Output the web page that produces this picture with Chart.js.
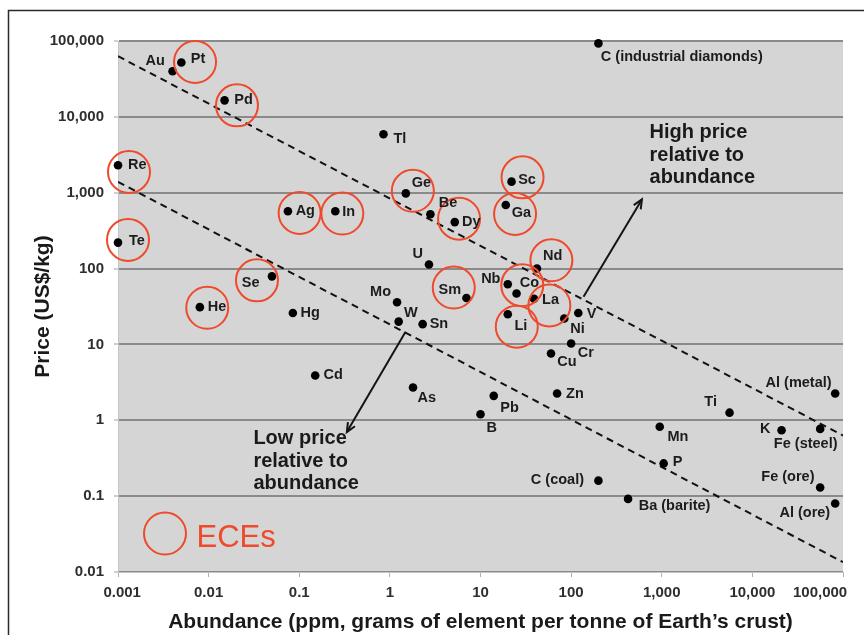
<!DOCTYPE html>
<html>
<head>
<meta charset="utf-8">
<script src="https://cdn.jsdelivr.net/npm/chart.js@4/dist/chart.umd.min.js"></script>
<style>
  html, body { margin: 0; padding: 0; background: #ffffff; }
  #wrap { width: 864px; height: 635px; }
</style>
</head>
<body>
<div id="wrap"><canvas id="c" width="864" height="635"></canvas></div>
<script>
// ---------------- DATA ----------------
const elements = ['Au','Pt','Pd','Re','Te','Ag','In','Se','He','Hg','Mo','Tl','Ge','Be','Dy','Sc','Ga','U','Nd','Sm','Nb','Co','La','Li','V','Ni','W','Sn','Cr','Cu','Cd','As','Pb','B','Zn','Ti','Al (metal)','K','Fe (steel)','Mn','P','C (coal)','Ba (barite)','Fe (ore)','Al (ore)','C (industrial diamonds)'];
const abundance = [0.004,0.005,0.015,0.001,0.001,0.075,0.25,0.05,0.008,0.085,1.2,0.85,1.5,2.8,5.2,22,19,2.7,42,7,20,25,39,20,120,84,1.25,2.3,100,60,0.15,1.8,14,10,70,5600,82000,21000,56000,950,1050,200,425,56000,82000,200];
const price = [40000,52000,16500,2300,220,570,570,79,31,26,36,5900,980,520,410,1400,690,113,100,41,62,47,40,25,26,22,20,18.5,10.3,7.6,3.9,2.7,2.1,1.2,2.25,1.26,2.25,0.74,0.77,0.82,0.27,0.16,0.092,0.13,0.08,93000];
const eceElements = ['Pt','Pd','Re','Te','Ag','In','Se','He','Ge','Dy','Sc','Ga','Nd','Sm','Co','La','Li'];

const trendX = [0.001, 100000];
const trendHighY = [63000, 0.63];
const trendLowY = [1390, 0.0135];

const xTickValues = [0.001,0.01,0.1,1,10,100,1000,10000,100000];
const xTickLabels = ['0.001','0.01','0.1','1','10','100','1,000','10,000','100,000'];
const yTickValues = [0.01,0.1,1,10,100,1000,10000,100000];
const yTickLabels = ['0.01','0.1','1','10','100','1,000','10,000','100,000'];

const highArrow = { from: [137, 42.4], to: [604, 816] };
const lowArrow = { from: [1.49, 14.7], to: [0.335, 0.70] };
const highText = { at: [733, 6170], lines: ['High price', 'relative to', 'abundance'] };
const lowText = { at: [0.0312, 0.574], lines: ['Low price', 'relative to', 'abundance'] };

// ---------------- LAYOUT (label / circle offsets in px) ----------------
const labelPos = {
  'Au':[-7.7,-10,'right'],'Pt':[9.4,-4,'left'],'Pd':[9.7,0,'left'],'Re':[10,0,'left'],'Te':[11,-2,'left'],
  'Ag':[7.7,0,'left'],'In':[7,1,'left'],'Se':[-12.4,6.7,'right'],'He':[8,0,'left'],'Hg':[7.7,0,'left'],
  'Mo':[-6,-10.6,'right'],'Tl':[10,5,'left'],'Ge':[6,-10,'left'],'Be':[8.3,-11,'left'],'Dy':[7.3,0,'left'],
  'Sc':[6.6,-2,'left'],'Ga':[6,8.3,'left'],'U':[-6,-11,'right'],'Nd':[6,-12.3,'left'],'Sm':[-16.7,-8.4,'center'],
  'Nb':[-7.3,-5.7,'right'],'Co':[3.3,-10.6,'left'],'La':[8,1,'left'],'Li':[6.6,11.7,'left'],'V':[8.4,1,'left'],
  'Ni':[6,10.7,'left'],'W':[5.3,-8.4,'left'],'Sn':[7,0,'left'],'Cr':[6.6,9.4,'left'],'Cu':[6.3,8.4,'left'],
  'Cd':[8.3,0,'left'],'As':[4.6,10.4,'left'],'Pb':[6.6,11.7,'left'],'B':[6,14,'left'],'Zn':[9,0,'left'],
  'Ti':[-12.6,-10.6,'right'],'Al (metal)':[-3.6,-11,'right'],'K':[-11,-1.7,'right'],'Fe (steel)':[-14.5,15.6,'center'],
  'Mn':[7.7,10.6,'left'],'P':[9,-1.6,'left'],'C (coal)':[-14.4,-0.7,'right'],'Ba (barite)':[10.6,7,'left'],
  'Fe (ore)':[-5.7,-10,'right'],'Al (ore)':[-5,10,'right'],'C (industrial diamonds)':[2.4,14,'left']
};
const circleOffset = {
  'Pt':[13.7,-0.6],'Pd':[12.4,5],'Re':[11,6.7],'Te':[10,-2.7],'Ag':[11.7,1.7],'In':[7,2.3],'Se':[-15,4],
  'He':[7.4,0.6],'Ge':[7,-2.6],'Dy':[4.3,-3.4],'Sc':[11,-4.3],'Ga':[9.3,9],'Nd':[14.4,-8.3],'Sm':[-12.7,-10.4],
  'Co':[5.7,-8.3],'La':[15.3,6.7],'Li':[9,12.4]
};

const RED = '#ee4a2b';
const FONT = '"Liberation Sans", Arial, Helvetica, sans-serif';
const NB = '\u00a0';

const bgPlugin = {
  id: 'bg',
  beforeDraw(chart) {
    const {ctx, chartArea: a} = chart;
    ctx.save();
    ctx.fillStyle = '#ffffff';
    ctx.fillRect(0, 0, chart.width, chart.height);
    ctx.fillStyle = '#d5d5d5';
    ctx.fillRect(a.left, a.top, a.right - a.left, a.bottom - a.top);
    ctx.strokeStyle = '#2a2a2a';
    ctx.lineWidth = 1.5;
    ctx.beginPath();
    ctx.moveTo(8.5, chart.height);
    ctx.lineTo(8.5, 10.5);
    ctx.lineTo(chart.width, 10.5);
    ctx.stroke();
    ctx.restore();
  }
};

function arrow(ctx, x1, y1, x2, y2) {
  ctx.beginPath();
  ctx.moveTo(x1, y1);
  ctx.lineTo(x2, y2);
  ctx.stroke();
  const ang = Math.atan2(y2 - y1, x2 - x1);
  const L = 10, w = 0.42;
  ctx.beginPath();
  ctx.moveTo(x2 - L * Math.cos(ang - w), y2 - L * Math.sin(ang - w));
  ctx.lineTo(x2, y2);
  ctx.lineTo(x2 - L * Math.cos(ang + w), y2 - L * Math.sin(ang + w));
  ctx.stroke();
}

const annoPlugin = {
  id: 'anno',
  afterDatasetsDraw(chart) {
    const {ctx, chartArea: a} = chart;
    const xs = chart.scales.x, ys = chart.scales.y;
    const meta = chart.getDatasetMeta(0);
    ctx.save();
    // ECE circles
    ctx.strokeStyle = RED;
    ctx.lineWidth = 2;
    elements.forEach((name, i) => {
      if (!eceElements.includes(name)) return;
      const p = meta.data[i];
      const off = circleOffset[name] || [0, 0];
      ctx.beginPath();
      ctx.arc(p.x + off[0], p.y + off[1], 21, 0, Math.PI * 2);
      ctx.stroke();
    });
    // point labels
    ctx.fillStyle = '#1c1c1c';
    ctx.font = 'bold 14.5px ' + FONT;
    ctx.textBaseline = 'middle';
    elements.forEach((name, i) => {
      const p = meta.data[i];
      const lp = labelPos[name] || [7, 0, 'left'];
      ctx.textAlign = lp[2];
      ctx.fillText(name, p.x + lp[0], p.y + lp[1]);
    });
    // arrows
    ctx.strokeStyle = '#141414';
    ctx.lineWidth = 2;
    [highArrow, lowArrow].forEach(ar => {
      arrow(ctx, xs.getPixelForValue(ar.from[0]), ys.getPixelForValue(ar.from[1]),
                 xs.getPixelForValue(ar.to[0]), ys.getPixelForValue(ar.to[1]));
    });
    // annotation texts
    ctx.fillStyle = '#1a1a1a';
    ctx.font = 'bold 20px ' + FONT;
    ctx.textAlign = 'left';
    [highText, lowText].forEach(t => {
      const x = xs.getPixelForValue(t.at[0]);
      const y = ys.getPixelForValue(t.at[1]);
      t.lines.forEach((ln, k) => ctx.fillText(ln, x, y + k * 22.5));
    });
    // ECE legend
    ctx.strokeStyle = RED;
    ctx.lineWidth = 2;
    ctx.beginPath();
    ctx.arc(a.left + 47, a.bottom - 38.5, 21, 0, Math.PI * 2);
    ctx.stroke();
    ctx.fillStyle = RED;
    ctx.font = '31px ' + FONT;
    ctx.fillText('ECEs', a.left + 78.5, a.bottom - 33.5);
    ctx.restore();
  }
};

new Chart(document.getElementById('c'), {
  type: 'scatter',
  data: {
    datasets: [
      {
        label: 'Elements',
        data: elements.map((n, i) => ({x: abundance[i], y: price[i]})),
        pointRadius: 4.3,
        pointHoverRadius: 4.3,
        pointBackgroundColor: '#000000',
        pointBorderWidth: 0,
        clip: false,
        order: 1
      },
      {
        type: 'line',
        label: 'High',
        data: trendX.map((x, i) => ({x, y: trendHighY[i]})),
        borderColor: '#111111',
        borderWidth: 2,
        borderDash: [7, 5],
        pointRadius: 0,
        fill: false,
        order: 2
      },
      {
        type: 'line',
        label: 'Low',
        data: trendX.map((x, i) => ({x, y: trendLowY[i]})),
        borderColor: '#111111',
        borderWidth: 2,
        borderDash: [7, 5],
        pointRadius: 0,
        fill: false,
        order: 2
      }
    ]
  },
  options: {
    responsive: false,
    animation: false,
    devicePixelRatio: 1,
    layout: { padding: { left: 0, right: 21, top: 41, bottom: 0 } },
    plugins: { legend: { display: false }, tooltip: { enabled: false } },
    scales: {
      x: {
        type: 'logarithmic',
        min: 0.001, max: 100000,
        afterBuildTicks: s => { s.ticks = xTickValues.map(v => ({value: v})); },
        afterFit: s => { s.height = 63; s.paddingLeft = 0; s.paddingRight = 0; },
        ticks: {
          autoSkip: false, maxRotation: 0, padding: 7,
          color: '#2e2e2e',
          font: { family: FONT, size: 15, weight: 'bold' },
          callback: (v, i) => {
            const t = xTickLabels[i];
            if (i === 0) return NB.repeat(2) + t;
            if (i === xTickLabels.length - 1) return t + NB.repeat(11);
            return t;
          }
        },
        grid: { drawOnChartArea: false, drawTicks: true, tickLength: 5, color: '#b0b0b0' },
        border: { display: true, color: '#c4c4c4', width: 1 },
        title: {
          display: true,
          text: 'Abundance (ppm, grams of element per tonne of Earth\u2019s crust)',
          color: '#1a1a1a',
          font: { family: FONT, size: 21, weight: 'bold' },
          padding: { top: 0, bottom: 0 }
        }
      },
      y: {
        type: 'logarithmic',
        min: 0.01, max: 100000,
        afterBuildTicks: s => { s.ticks = yTickValues.map(v => ({value: v})); },
        afterFit: s => { s.width = 118; s.paddingTop = 0; s.paddingBottom = 0; },
        ticks: {
          autoSkip: false, padding: 10,
          color: '#2e2e2e',
          font: { family: FONT, size: 15, weight: 'bold' },
          callback: (v, i) => yTickLabels[i]
        },
        grid: { color: '#8a8a8a', lineWidth: 2, tickLength: 4, tickColor: '#a0a0a0', tickWidth: 1 },
        border: { display: true, color: '#c4c4c4', width: 1 },
        title: {
          display: true,
          text: 'Price (US$/kg)',
          color: '#1a1a1a',
          font: { family: FONT, size: 21, weight: 'bold' },
          padding: { top: 31, bottom: 0 }
        }
      }
    }
  },
  plugins: [bgPlugin, annoPlugin]
});
</script>
</body>
</html>
